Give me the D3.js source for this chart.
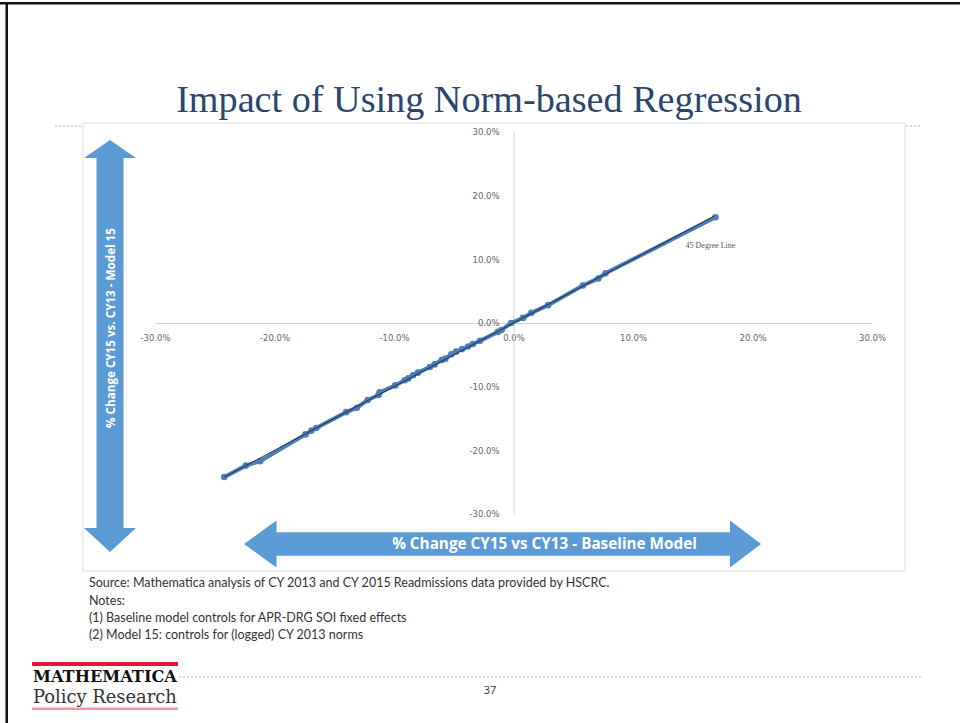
<!DOCTYPE html>
<html>
<head>
<meta charset="utf-8">
<script src="https://cdn.jsdelivr.net/npm/d3@7"></script>
<style>
  body { margin: 0; background: #fff; }
  svg { display: block; }
</style>
</head>
<body>
<script>
// values (percent change)
var xVals = [-24.2, -22.4, -21.2, -17.4, -16.9, -16.5, -14.0, -13.1, -12.2, -11.3, -11.2, -9.9,
             -9.1, -8.8, -8.4, -8.0, -7.0, -6.6, -6.0, -5.7, -5.2, -4.8, -4.3, -3.8,
             -3.4, -2.8, -1.3, -1.0, -0.2, 0.8, 1.5, 2.9, 5.8, 7.1, 7.7, 16.9];
var yVals = [-24.2, -22.4, -21.7, -17.5, -16.9, -16.5, -14.0, -13.3, -12.1, -11.3, -10.9, -9.8,
             -9.0, -8.7, -8.2, -7.8, -6.9, -6.5, -5.8, -5.6, -4.9, -4.5, -4.1, -3.7,
             -3.3, -2.8, -1.4, -1.1, 0.0, 0.8, 1.6, 2.8, 5.9, 7.0, 7.8, 16.6];
var diagEnds = [-24.2, 16.8];   // 45 degree reference line, y = x
var xTicks = [-30, -20, -10, 0, 10, 20, 30];
var yTicks = [-30, -20, -10, 0, 10, 20, 30];

var title = "Impact of Using Norm-based Regression";
var xArrowText = "% Change CY15 vs CY13 - Baseline Model";
var yArrowText = "% Change CY15 vs. CY13 - Model 15";
var sourceText = "Source: Mathematica analysis of CY 2013 and CY 2015 Readmissions data provided by HSCRC.";
var notes = [["(1)", "Baseline model controls for APR-DRG SOI fixed effects"],
             ["(2)", "Model 15: controls for (logged) CY 2013 norms"]];

var W = 960, H = 723;
var blue = "#5b9bd5";

var svg = d3.select("body").append("svg")
    .attr("width", W)
    .attr("height", H);

// shrink / grow a text so it fills a given width
function fit(sel, width) {
    var size = parseFloat(sel.style("font-size"));
    var len = sel.node().getComputedTextLength();
    sel.style("font-size", (size * width / len) + "px");
    return sel;
}

// slide frame
svg.append("rect").attr("x", 0).attr("y", 2).attr("width", W).attr("height", 2.5).attr("fill", "#111");
svg.append("rect").attr("x", 5.5).attr("y", 2).attr("width", 2.5).attr("height", H).attr("fill", "#111");

// title
var t = svg.append("text")
    .attr("x", 489).attr("y", 112)
    .attr("text-anchor", "middle")
    .style("font-family", "'Liberation Serif'")
    .style("font-size", "30px")
    .style("fill", "#2a466e")
    .text(title);
fit(t, 626);

// dotted rules
svg.append("line").attr("x1", 55).attr("x2", 83).attr("y1", 126).attr("y2", 126)
    .attr("stroke", "#b0b0b0").attr("stroke-dasharray", "2,2");
svg.append("line").attr("x1", 906).attr("x2", 921).attr("y1", 126).attr("y2", 126)
    .attr("stroke", "#b0b0b0").attr("stroke-dasharray", "2,2");
svg.append("line").attr("x1", 179).attr("x2", 921).attr("y1", 677).attr("y2", 677)
    .attr("stroke", "#b8b8b8").attr("stroke-dasharray", "2,2");

// chart box
svg.append("rect")
    .attr("x", 83).attr("y", 123).attr("width", 822).attr("height", 448)
    .attr("fill", "#fff").attr("stroke", "#dedede");

var x = d3.scaleLinear().domain([-30, 30]).range([155, 872]);
var y = d3.scaleLinear().domain([-30, 30]).range([514, 132]);
var fmt = function (d) { return d.toFixed(1) + "%"; };

var xAxis = d3.axisBottom(x).tickValues(xTicks).tickSize(0).tickPadding(12).tickFormat(fmt);
var yAxis = d3.axisLeft(y).tickValues(yTicks).tickSize(0).tickPadding(14).tickFormat(fmt);

var gx = svg.append("g")
    .attr("transform", "translate(0," + y(0) + ")")
    .call(xAxis);
var gy = svg.append("g")
    .attr("transform", "translate(" + x(0) + ",0)")
    .call(yAxis);

[gx, gy].forEach(function (g) {
    g.select(".domain").attr("stroke", "#d4d4d4");
    g.selectAll("text")
        .style("font-family", "'DejaVu Sans'")
        .style("font-size", "8.5px")
        .style("fill", "#666");
});

// data series
var pts = xVals.map(function (v, i) { return [v, yVals[i]]; });

var line = d3.line()
    .x(function (d) { return x(d[0]); })
    .y(function (d) { return y(d[1]); });

svg.append("path")
    .datum(pts)
    .attr("d", line)
    .attr("fill", "none")
    .attr("stroke", "#4a7ebb")
    .attr("stroke-width", 4);

svg.selectAll(".pt")
    .data(pts)
    .enter()
    .append("circle")
    .attr("class", "pt")
    .attr("cx", function (d) { return x(d[0]); })
    .attr("cy", function (d) { return y(d[1]); })
    .attr("r", 3.3)
    .attr("fill", "#4a7ebb");

svg.append("path")
    .datum(diagEnds.map(function (v) { return [v, v]; }))
    .attr("d", line)
    .attr("fill", "none")
    .attr("stroke", "#1c2433")
    .attr("stroke-width", 0.9);

svg.append("text")
    .attr("x", x(14.4)).attr("y", y(11.8))
    .style("font-family", "'Liberation Serif'")
    .style("font-size", "8px")
    .style("fill", "#555")
    .text("45 Degree Line");

// vertical arrow
var vx = 110, vTop = 140, vBot = 552, vHead = 18, vHW = 26, vSW = 13.5;
svg.append("path")
    .attr("d", "M" + vx + "," + vTop +
        "L" + (vx + vHW) + "," + (vTop + vHead) +
        "L" + (vx + vSW) + "," + (vTop + vHead) +
        "L" + (vx + vSW) + "," + (vBot - 24) +
        "L" + (vx + vHW) + "," + (vBot - 24) +
        "L" + vx + "," + vBot +
        "L" + (vx - vHW) + "," + (vBot - 24) +
        "L" + (vx - vSW) + "," + (vBot - 24) +
        "L" + (vx - vSW) + "," + (vTop + vHead) +
        "L" + (vx - vHW) + "," + (vTop + vHead) + "Z")
    .attr("fill", blue);

var vt = svg.append("text")
    .attr("transform", "translate(" + (vx + 1) + ",328) rotate(-90)")
    .attr("text-anchor", "middle")
    .attr("dy", "0.35em")
    .style("font-family", "'Open Sans'")
    .style("font-weight", "bold")
    .style("font-size", "10.5px")
    .style("fill", "#fff")
    .text(yArrowText);
fit(vt, 200);

// horizontal arrow
var hy = 544, hL = 244, hR = 761, hHL = 276.5, hHR = 730, hHH = 23.5, hSH = 11.7;
svg.append("path")
    .attr("d", "M" + hL + "," + hy +
        "L" + hHL + "," + (hy - hHH) +
        "L" + hHL + "," + (hy - hSH) +
        "L" + hHR + "," + (hy - hSH) +
        "L" + hHR + "," + (hy - hHH) +
        "L" + hR + "," + hy +
        "L" + hHR + "," + (hy + hHH) +
        "L" + hHR + "," + (hy + hSH) +
        "L" + hHL + "," + (hy + hSH) +
        "L" + hHL + "," + (hy + hHH) + "Z")
    .attr("fill", blue);

var ht = svg.append("text")
    .attr("x", 544.5).attr("y", hy)
    .attr("dy", "0.35em")
    .attr("text-anchor", "middle")
    .style("font-family", "'Open Sans'")
    .style("font-weight", "bold")
    .style("font-size", "13px")
    .style("fill", "#fff")
    .text(xArrowText);
fit(ht, 305);

// source and notes
var src = svg.append("text")
    .attr("x", 89).attr("y", 587)
    .style("font-family", "Lato")
    .style("font-size", "9px")
    .style("fill", "#333")
    .text(sourceText);
fit(src, 521);
var noteSize = src.style("font-size");

svg.append("text")
    .attr("x", 89).attr("y", 605)
    .style("font-family", "Lato")
    .style("font-size", noteSize)
    .style("fill", "#333")
    .text("Notes:");

notes.forEach(function (n, i) {
    var yy = 622 + i * 17;
    svg.append("text").attr("x", 89).attr("y", yy)
        .style("font-family", "Lato").style("font-size", noteSize).style("fill", "#333")
        .text(n[0]);
    svg.append("text").attr("x", 106).attr("y", yy)
        .style("font-family", "Lato").style("font-size", noteSize).style("fill", "#333")
        .text(n[1]);
});

// logo
svg.append("rect").attr("x", 32).attr("y", 662).attr("width", 146).attr("height", 4).attr("fill", "#e2173a");
var m = svg.append("text")
    .attr("x", 33).attr("y", 682)
    .style("font-family", "'DejaVu Serif'")
    .style("font-weight", "bold")
    .style("font-size", "14px")
    .style("fill", "#111")
    .text("MATHEMATICA");
fit(m, 144);
var pr = svg.append("text")
    .attr("x", 33).attr("y", 703)
    .style("font-family", "'DejaVu Serif'")
    .style("font-size", "15px")
    .style("fill", "#333")
    .text("Policy Research");
fit(pr, 144);
svg.append("rect").attr("x", 32).attr("y", 707.5).attr("width", 146).attr("height", 2.5).attr("fill", "#f097a8");

// page number
svg.append("text")
    .attr("x", 490).attr("y", 694)
    .attr("text-anchor", "middle")
    .style("font-family", "'Open Sans'")
    .style("font-size", "11px")
    .style("fill", "#333")
    .text("37");
</script>
</body>
</html>
